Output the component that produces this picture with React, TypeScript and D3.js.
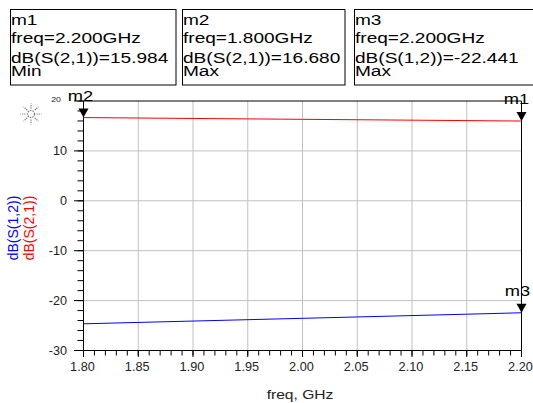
import React from "react";
import * as d3 from "d3";

const freqs = [1.8, 1.9, 2.0, 2.1, 2.2];
const s21 = [16.68, 16.5, 16.33, 16.16, 15.984];
const s12 = [-24.65, -24.1, -23.55, -23.0, -22.441];

const xTicks = [1.8, 1.85, 1.9, 1.95, 2.0, 2.05, 2.1, 2.15, 2.2];
const yTicks = [-30, -20, -10, 0, 10, 20];

const markerNames = ["m1", "m2", "m3"];
const markerFreqs = [2.2, 1.8, 2.2];
const markerVals = [15.984, 16.68, -22.441];
const markerExprs = ["dB(S(2,1))=15.984", "dB(S(2,1))=16.680", "dB(S(1,2))=-22.441"];
const markerFreqText = ["freq=2.200GHz", "freq=1.800GHz", "freq=2.200GHz"];
const markerKinds = ["Min", "Max", "Max"];

const FONT = "'Liberation Sans', Arial, sans-serif";

function SText({ x, y, s = 1.2, size, anchor = "start", fill = "#000", children }: any) {
  return (
    <text
      transform={`translate(${x},${y}) scale(${s},1)`}
      fontSize={size}
      textAnchor={anchor}
      fill={fill}
      fontFamily={FONT}
    >
      {children}
    </text>
  );
}

export default function App() {
  const x = d3.scaleLinear().domain([1.8, 2.2]).range([83.5, 521.5]);
  const y = d3.scaleLinear().domain([-30, 20]).range([350.5, 101]);

  const line = d3
    .line<number>()
    .x((_, i) => x(freqs[i]))
    .y((d) => y(d));

  const yMinor = d3.range(-30, 20.001, 2);
  const xMinor = d3.range(0, 41).map((i) => 1.8 + i * 0.01);

  const boxLefts = [10, 182, 354];
  const boxRights = [175.5, 344.5, 545];

  const markerLabelDx = [-5, -3, -4];
  const markerLabelY = [104, 101, 296];

  const sunC = [31, 114];

  return (
    <svg
      width={533}
      height={403}
      style={{ position: "absolute", left: 0, top: 0, background: "#fff" }}
    >
      <rect x={0} y={0} width={533} height={403} fill="#fff" />
      {/* Marker boxes */}
      {markerNames.map((m, i) => (
        <g key={m}>
          <rect
            x={boxLefts[i] + 0.5}
            y={9.5}
            width={boxRights[i] - boxLefts[i]}
            height={75.5}
            fill="none"
            stroke="#000"
            strokeWidth={1}
          />
          <SText x={boxLefts[i] + 1} y={24.5} size={15.5} s={1.23}>{m}</SText>
          <SText x={boxLefts[i] + 1} y={42.5} size={15.5} s={1.23}>{markerFreqText[i]}</SText>
          <SText x={boxLefts[i] + 1} y={62.5} size={15.5} s={1.23}>{markerExprs[i]}</SText>
          <SText x={boxLefts[i] + 1} y={76} size={15.5} s={1.23}>{markerKinds[i]}</SText>
        </g>
      ))}

      {/* Grid */}
      {xTicks.slice(1, -1).map((t) => (
        <line key={"gx" + t} x1={x(t)} x2={x(t)} y1={y(20)} y2={y(-30)} stroke="#c0c0c0" strokeWidth={1} />
      ))}
      {yTicks.slice(1, -1).map((t) => (
        <line key={"gy" + t} x1={x(1.8)} x2={x(2.2)} y1={y(t)} y2={y(t)} stroke="#c0c0c0" strokeWidth={1} />
      ))}

      {/* Frame */}
      <line x1={x(1.8)} x2={x(2.2)} y1={y(20)} y2={y(20)} stroke="#000" />
      <line x1={x(2.2)} x2={x(2.2)} y1={y(20)} y2={y(-30)} stroke="#000" />
      <line x1={x(1.8)} x2={x(1.8)} y1={y(20)} y2={y(-30)} stroke="#000" />
      <line x1={x(1.8)} x2={x(2.2)} y1={y(-30)} y2={y(-30)} stroke="#000" />

      {/* Y ticks */}
      {yMinor.map((t) => (
        <line key={"ym" + t} x1={x(1.8) - 6} x2={x(1.8)} y1={y(t)} y2={y(t)} stroke="#000" />
      ))}
      {yTicks.map((t) => (
        <line key={"yM" + t} x1={x(1.8) - 9.5} x2={x(1.8)} y1={y(t)} y2={y(t)} stroke="#000" />
      ))}
      {yTicks.map((t) =>
        t === 20 ? (
          <SText key={"yl" + t} x={61} y={y(t) + 0.5} size={8} s={1.1} anchor="end" fill="#222">
            {t}
          </SText>
        ) : (
          <SText key={"yl" + t} x={67} y={y(t) + 4} size={12} s={1.05} anchor="end" fill="#222">
            {t}
          </SText>
        )
      )}

      {/* X ticks */}
      {xMinor.map((t, i) => (
        <line key={"xm" + i} x1={x(t)} x2={x(t)} y1={y(-30)} y2={y(-30) + 5} stroke="#000" />
      ))}
      {xTicks.map((t) => (
        <line key={"xM" + t} x1={x(t)} x2={x(t)} y1={y(-30)} y2={y(-30) + 6.5} stroke="#000" />
      ))}
      {xTicks.map((t) => (
        <SText key={"xl" + t} x={x(t) - 1} y={371} size={12} s={1.06} anchor="middle" fill="#222">
          {t.toFixed(2)}
        </SText>
      ))}

      {/* Axis titles */}
      <SText x={300} y={399} size={13} s={1.2} anchor="middle" fill="#222">freq, GHz</SText>
      <g transform="translate(17.5,228) rotate(-90)">
        <text x={0} y={0} fontSize={14} textAnchor="middle" fill="#0000ff" fontFamily={FONT}>dB(S(1,2))</text>
      </g>
      <g transform="translate(33.5,228) rotate(-90)">
        <text x={0} y={0} fontSize={14} textAnchor="middle" fill="#ff0000" fontFamily={FONT}>dB(S(2,1))</text>
      </g>

      {/* Series */}
      <path d={line(s21) || ""} fill="none" stroke="#ff0000" strokeWidth={1} />
      <path d={line(s12) || ""} fill="none" stroke="#0000ff" strokeWidth={1} />

      {/* Markers */}
      {markerNames.map((m, i) => {
        const px = x(markerFreqs[i]);
        const py = y(markerVals[i]);
        return (
          <g key={"mk" + m}>
            <path d={`M${px - 5},${py - 9} L${px + 5},${py - 9} L${px},${py} Z`} fill="#000" />
            <SText x={px + markerLabelDx[i]} y={markerLabelY[i]} size={15} anchor="middle" s={1.22}>
              {m}
            </SText>
          </g>
        );
      })}

      {/* Sun icon */}
      <g stroke="#777" strokeWidth={1.2} fill="none">
        <circle cx={sunC[0]} cy={sunC[1]} r={3.5} strokeDasharray="1.5,1" />
        {d3.range(8).map((k) => {
          const a = (k * Math.PI) / 4;
          return (
            <line
              key={"sun" + k}
              x1={sunC[0] + 5.5 * Math.cos(a)}
              y1={sunC[1] + 5.5 * Math.sin(a)}
              x2={sunC[0] + 10.5 * Math.cos(a)}
              y2={sunC[1] + 10.5 * Math.sin(a)}
              strokeDasharray="1.2,1"
            />
          );
        })}
      </g>
    </svg>
  );
}
